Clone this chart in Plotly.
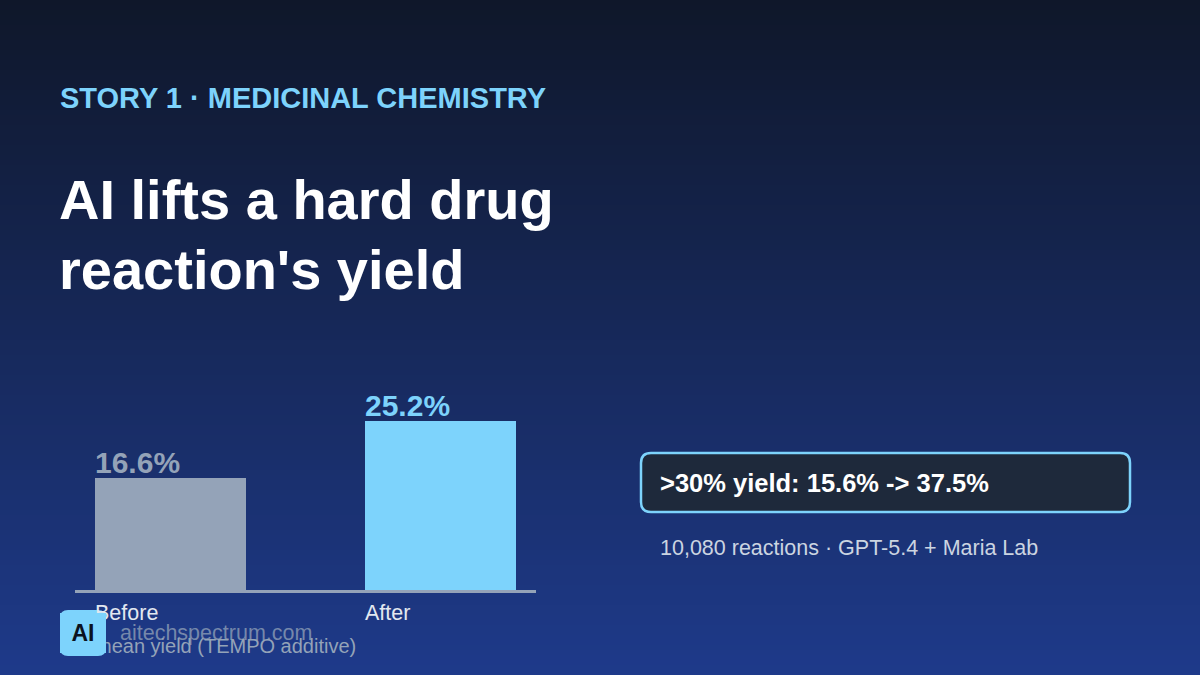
import plotly.graph_objects as go

# ---- data ----
categories = ["Before", "After"]
mean_yield = [16.6, 25.2]
value_labels = ["16.6%", "25.2%"]
bar_colors = ["#94a3b8", "#7dd3fc"]

W, H = 1200, 675
FONT = "Liberation Sans, Arial, sans-serif"

def px(x):
    return x / W

def py(y):
    return 1 - y / H

def rounded_rect(x0, y0, x1, y1, r):
    rx, ry = r / W, r / H
    X0, X1 = px(x0), px(x1)
    Y0, Y1 = py(y0), py(y1)  # Y0 top (higher), Y1 bottom
    return (f"M {X0+rx},{Y0} L {X1-rx},{Y0} Q {X1},{Y0} {X1},{Y0-ry} "
            f"L {X1},{Y1+ry} Q {X1},{Y1} {X1-rx},{Y1} L {X0+rx},{Y1} "
            f"Q {X0},{Y1} {X0},{Y1+ry} L {X0},{Y0-ry} Q {X0},{Y0} {X0+rx},{Y0} Z")

fig = go.Figure()
fig.add_trace(go.Bar(
    x=list(range(len(categories))), y=mean_yield,
    marker=dict(color=bar_colors, line=dict(width=0)),
    width=0.56, hoverinfo="skip",
))

shapes = []
# vertical gradient background
top = (15, 23, 42)
bot = (30, 58, 138)
n = 135
for i in range(n):
    t = i / (n - 1)
    c = tuple(round(top[k] + (bot[k] - top[k]) * t) for k in range(3))
    shapes.append(dict(type="rect", xref="paper", yref="paper",
                       x0=0, x1=1, y0=1 - (i + 1) / n - 0.002, y1=1 - i / n,
                       fillcolor=f"rgb{c}", line=dict(width=0), layer="below"))
# callout box
shapes.append(dict(type="path", xref="paper", yref="paper",
                   path=rounded_rect(641, 453, 1130, 512, 10),
                   fillcolor="#1e293b", line=dict(color="#7dd3fc", width=2.5),
                   layer="above"))
# logo box
shapes.append(dict(type="path", xref="paper", yref="paper",
                   path=rounded_rect(60, 610, 106, 656, 8),
                   fillcolor="#7dd3fc", line=dict(width=0), layer="above"))

ann = []
def text(x, y, s, size, color, bold=False, xanchor="left", yanchor="middle", **kw):
    ann.append(dict(xref="paper", yref="paper", x=px(x), y=py(y), text=(f"<b>{s}</b>" if bold else s),
                    showarrow=False, xanchor=xanchor, yanchor=yanchor,
                    font=dict(family=FONT, size=size, color=color), **kw))

text(58, 98, "STORY 1 · MEDICINAL CHEMISTRY", 29, "#7dd3fc", bold=True)
text(57, 199, "AI lifts a hard drug", 56, "#ffffff", bold=True)
text(57, 269, "reaction's yield", 56, "#ffffff", bold=True)

# value labels above bars (left aligned to bar edge)
for i, (v, lab, col) in enumerate(zip(mean_yield, value_labels, bar_colors)):
    ann.append(dict(xref="x", yref="y", x=i - 0.28, y=v, text=f"<b>{lab}</b>",
                    showarrow=False, xanchor="left", yanchor="bottom", yshift=-3, xshift=-2,
                    font=dict(family=FONT, size=30, color=col)))
# category labels
for i, cat in enumerate(categories):
    ann.append(dict(xref="x", yref="paper", x=i - 0.28, y=py(613), text=cat,
                    showarrow=False, xanchor="left", yanchor="middle", xshift=-2,
                    font=dict(family=FONT, size=21.5, color="#e2e8f0")))
# axis title
text(93, 646, "mean yield (TEMPO additive)", 20, "#94a3b8")

# callout text
text(658, 483, ">30% yield: 15.6% -> 37.5%", 25.5, "#ffffff", bold=True)
text(658, 548, "10,080 reactions · GPT-5.4 + Maria Lab", 21.5, "#cbd5e1")

# watermark
ann.append(dict(xref="paper", yref="paper", x=px(83), y=py(633), text="<b>AI</b>",
                showarrow=False, xanchor="center", yanchor="middle",
                width=46, height=40, bgcolor="#7dd3fc", borderpad=0, borderwidth=0,
                font=dict(family=FONT, size=23, color="#0b1220")))
text(118, 633, "aitechspectrum.com", 21.5, "rgba(148,163,184,0.75)")

fig.update_layout(
    width=W, height=H,
    margin=dict(l=0, r=0, t=0, b=0),
    paper_bgcolor="#0f172a", plot_bgcolor="rgba(0,0,0,0)",
    showlegend=False,
    shapes=shapes, annotations=ann,
    xaxis=dict(domain=[px(75), px(536)], range=[-0.354, 1.354],
               showticklabels=False, showgrid=False, zeroline=False,
               showline=True, linecolor="#94a3b8", linewidth=2.5, ticks="",
               fixedrange=True),
    yaxis=dict(domain=[py(590), py(390)], range=[0, 200 / 6.72],
               visible=False, showgrid=False, zeroline=False, fixedrange=True),
    bargap=0,
)

fig.write_html("out.html", config={"displayModeBar": False})
